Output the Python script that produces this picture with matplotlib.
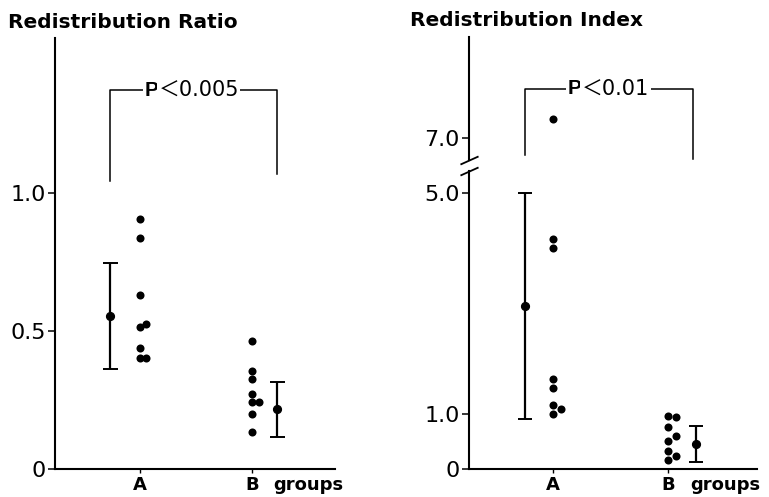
import numpy as np
import matplotlib
matplotlib.use("Agg")
import matplotlib.pyplot as plt

# values
groups = ["A", "B"]

ratio_a = [0.906, 0.838, 0.632, 0.527, 0.516, 0.44, 0.404, 0.404]
ratio_b = [0.466, 0.357, 0.329, 0.274, 0.245, 0.245, 0.202, 0.137]
ratio_mean = [0.556, 0.217]
ratio_sd = [0.193, 0.101]
ratio_p = "＜0.005"

index_a = [7.34, 4.16, 4.0, 1.63, 1.47, 1.17, 1.09, 1.0]
index_b = [0.96, 0.94, 0.76, 0.60, 0.52, 0.34, 0.24, 0.16]
index_mean = [2.95, 0.46]
index_sd = [2.04, 0.33]
index_p = "＜0.01"

# small side shifts so overlapping dots stay visible
ratio_a_dx = [0, 0, 0, 0.05, 0, 0, 0, 0.055]
ratio_b_dx = [0, 0, 0, 0, 0, 0.0625, 0, 0]
index_a_dx = [0, 0, 0, 0, 0, 0, 0.067, 0]
index_b_dx = [0, 0.07, 0, 0.07, 0, 0, 0.07, 0]

BOLD = dict(family="DejaVu Sans", weight="bold")
NUM = ["DejaVu Sans"]
PNUM = ["DejaVu Sans", "Noto Sans CJK JP"]


# broken y axis for the index panel: 5.4 .. 6.6 squeezed together
def fwd(v):
    return np.interp(v, [-10, 5.4, 6.6, 20], [-10, 5.4, 5.6, 19])


def inv(t):
    return np.interp(t, [-10, 5.4, 5.6, 19], [-10, 5.4, 6.6, 20])


def panel(ax, a, b, a_dx, b_dx, mean, sd, bar_dx, capsize):
    x = np.arange(1, len(groups) + 1)
    ax.plot(x[0] + np.array(a_dx), a, "o", color="k", ms=5.8, mec="none")
    ax.plot(x[1] + np.array(b_dx), b, "o", color="k", ms=5.8, mec="none")
    ax.errorbar(x + np.array(bar_dx), mean, yerr=sd, fmt="o", color="k",
                ms=5.6, elinewidth=1.6, capsize=capsize, capthick=1.4)
    for s in ["top", "right"]:
        ax.spines[s].set_visible(False)
    for s in ["left", "bottom"]:
        ax.spines[s].set_linewidth(1.5)
    ax.set_xticks(x)
    ax.set_xticklabels(groups, fontsize=13, **BOLD)
    ax.tick_params(axis="x", length=3, width=1, pad=1.5)
    ax.tick_params(axis="y", length=5, width=1.1, pad=1.5)
    ax.annotate("groups", xy=(2.19, 0), xycoords=ax.get_xaxis_transform(),
                xytext=(0, -4.5), textcoords="offset points",
                ha="left", va="top", fontsize=13, **BOLD)


def bracket(ax, x0, x1, y0, y1, top, px, ptxt):
    ax.plot([x0, x0, x1, x1], [y0, top, top, y1], color="k", lw=1.1,
            clip_on=False)
    t = ax.text(px, top, "P", ha="left", va="center", fontsize=15,
                family="Liberation Sans", weight="bold",
                bbox=dict(fc="white", ec="none", pad=1))
    ax.annotate(ptxt, xy=(1, 0.5), xycoords=t, ha="left", va="center",
                fontsize=15, family=PNUM,
                bbox=dict(fc="white", ec="none", pad=1))


fig = plt.figure(figsize=(7.69, 4.97), dpi=100)

# left: redistribution ratio
ax1 = fig.add_axes([0.0715, 0.0557, 0.3641, 0.8678])
panel(ax1, ratio_a, ratio_b, ratio_a_dx, ratio_b_dx, ratio_mean, ratio_sd,
      [-0.268, 0.223], 5.4)
ax1.set_xlim(0.241, 2.741)
ax1.set_ylim(0, 1.563)
ax1.set_yticks([0, 0.5, 1.0])
ax1.set_yticklabels(["0", "0.5", "1.0"], fontsize=16, family=NUM)
bracket(ax1, 0.732, 2.223, 1.046, 1.071, 1.374, 1.04, ratio_p)
fig.text(0.010, 0.955, "Redistribution Ratio", fontsize=14.5, ha="left",
         va="center", **BOLD)

# right: redistribution index with a break between 5 and 7
ax2 = fig.add_axes([0.6099, 0.0557, 0.3745, 0.8698])
ax2.set_yscale("function", functions=(fwd, inv))
panel(ax2, index_a, index_b, index_a_dx, index_b_dx, index_mean, index_sd,
      [-0.243, 0.243], 4.7)
ax2.set_xlim(0.270, 2.774)
ax2.set_ylim(0, 8.82)
ax2.set_yticks([0, 1.0, 5.0, 7.0])
ax2.set_yticklabels(["0", "1.0", "5.0", "7.0"], fontsize=16, family=NUM)
ax2.spines["left"].set_visible(False)
yt = ax2.get_yaxis_transform()
ax2.plot([0, 0], [0, 5.4], color="k", lw=1.5, transform=yt, clip_on=False)
ax2.plot([0, 0], [6.6, 8.82], color="k", lw=1.5, transform=yt, clip_on=False)
for yb in [5.4, 6.6]:
    ax2.plot([0], [yb], marker=[(-1, -0.45), (1, 0.45)], ms=13, mew=1.3,
             color="k", transform=yt, clip_on=False)
bracket(ax2, 0.757, 2.217, 6.68, 6.61, 7.88, 1.13, index_p)
fig.text(0.533, 0.958, "Redistribution Index", fontsize=14.5, ha="left",
         va="center", **BOLD)

fig.savefig("out.png", dpi=100)
